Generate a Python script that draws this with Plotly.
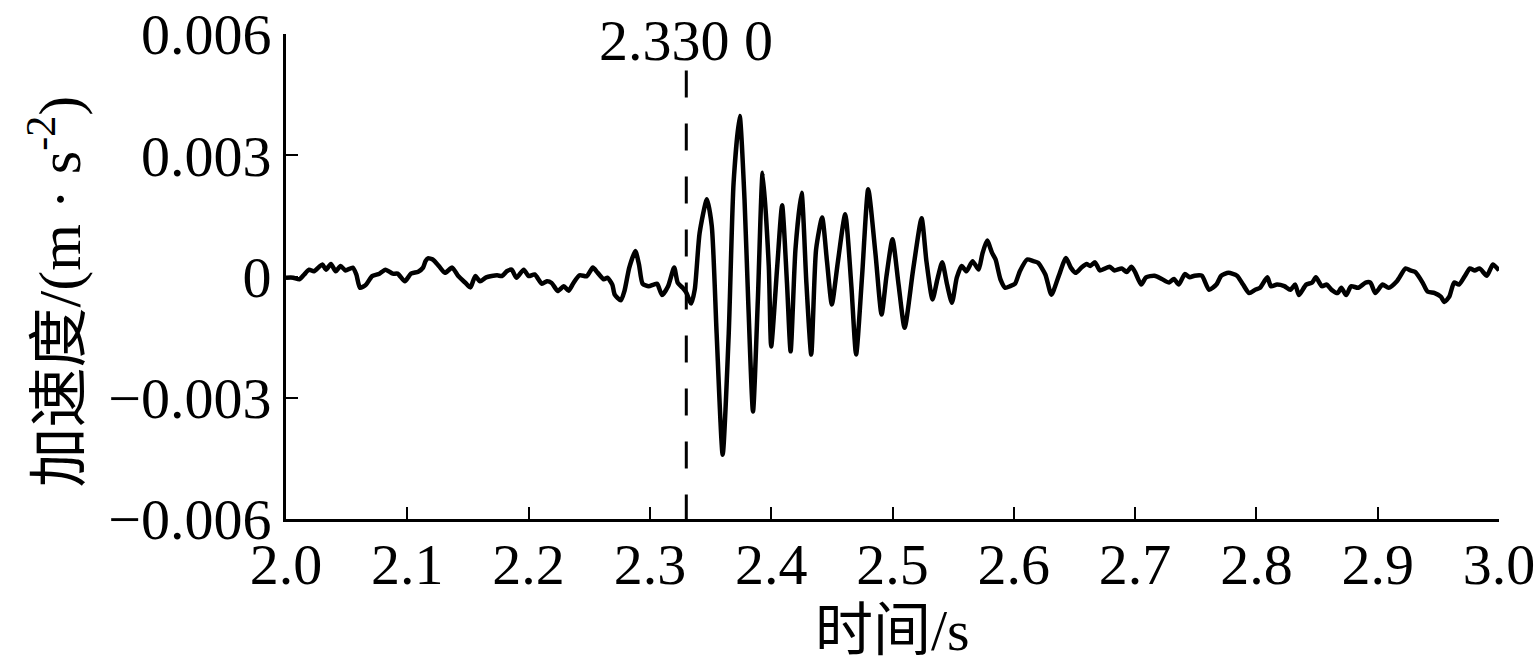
import plotly.graph_objects as go

# time (s) and acceleration (m/s^2)
time_s = [
    2.000, 2.006, 2.011, 2.015, 2.019, 2.023, 2.027, 2.030, 2.033, 2.037,
    2.041, 2.045, 2.049, 2.055, 2.058, 2.061, 2.066, 2.071, 2.077, 2.082,
    2.088, 2.092, 2.098, 2.103, 2.109, 2.113, 2.115, 2.117, 2.121, 2.126,
    2.131, 2.137, 2.142, 2.148, 2.152, 2.156, 2.160, 2.165, 2.174, 2.178,
    2.182, 2.186, 2.190, 2.196, 2.200, 2.205, 2.211, 2.215, 2.219, 2.224,
    2.229, 2.233, 2.237, 2.242, 2.248, 2.253, 2.257, 2.262, 2.265, 2.269,
    2.271, 2.276, 2.279, 2.283, 2.288, 2.291, 2.294, 2.299, 2.303, 2.306,
    2.310, 2.315, 2.320, 2.323, 2.327, 2.330, 2.334, 2.337, 2.341, 2.347,
    2.351, 2.355, 2.360, 2.365, 2.369, 2.374, 2.378, 2.381, 2.385, 2.389,
    2.393, 2.398, 2.400, 2.405, 2.409, 2.413, 2.416, 2.420, 2.425, 2.429,
    2.433, 2.437, 2.442, 2.446, 2.450, 2.455, 2.461, 2.466, 2.470, 2.475,
    2.480, 2.486, 2.491, 2.495, 2.500, 2.505, 2.510, 2.517, 2.524, 2.528,
    2.533, 2.537, 2.541, 2.545, 2.549, 2.553, 2.557, 2.561, 2.566, 2.571,
    2.574, 2.578, 2.582, 2.585, 2.589, 2.593, 2.597, 2.601, 2.605, 2.611,
    2.616, 2.620, 2.626, 2.631, 2.637, 2.643, 2.647, 2.651, 2.656, 2.660,
    2.663, 2.667, 2.671, 2.679, 2.683, 2.689, 2.693, 2.697, 2.700, 2.705,
    2.709, 2.716, 2.722, 2.728, 2.732, 2.736, 2.741, 2.745, 2.749, 2.755,
    2.761, 2.767, 2.771, 2.777, 2.784, 2.789, 2.794, 2.799, 2.803, 2.809,
    2.812, 2.817, 2.823, 2.828, 2.832, 2.835, 2.841, 2.846, 2.849, 2.854,
    2.858, 2.862, 2.867, 2.870, 2.874, 2.878, 2.884, 2.890, 2.894, 2.898,
    2.904, 2.909, 2.916, 2.923, 2.927, 2.931, 2.937, 2.941, 2.947, 2.952,
    2.955, 2.959, 2.963, 2.967, 2.972, 2.976, 2.980, 2.984, 2.990, 2.995,
    3.000,
]
accel = [
    -0.00003, -0.00003, -0.00007, 0.00005, 0.00017, 0.00013, 0.00023, 0.00030, 0.00017, 0.00031,
    0.00013, 0.00026, 0.00015, 0.00022, 0.00005, -0.00028, -0.00020, 0.00001, 0.00007, 0.00017,
    0.00007, 0.00007, -0.00012, 0.00007, 0.00012, 0.00022, 0.00038, 0.00045, 0.00042, 0.00026,
    0.00009, 0.00022, 0.00001, -0.00016, -0.00027, 0.00001, -0.00012, -0.00002, 0.00003, 0.00001,
    0.00013, 0.00017, -0.00003, 0.00017, 0.00001, 0.00005, -0.00018, -0.00012, -0.00016, -0.00036,
    -0.00024, -0.00035, -0.00016, 0.00003, 0.00001, 0.00022, 0.00009, -0.00007, -0.00003, -0.00020,
    -0.00045, -0.00059, -0.00036, 0.00022, 0.00063, 0.00030, -0.00018, -0.00024, -0.00020, -0.00018,
    -0.00046, -0.00024, 0.00022, -0.00016, -0.00028, -0.00040, -0.00067, -0.00032, 0.00108, 0.00191,
    0.00125, -0.00140, -0.00441, -0.00140, 0.00232, 0.00397, 0.00191, -0.00057, -0.00334, -0.00057,
    0.00257, 0.00026, -0.00173, 0.00026, 0.00176, -0.00016, -0.00185, 0.00067, 0.00207, -0.00016,
    -0.00193, 0.00067, 0.00146, 0.00037, -0.00069, 0.00037, 0.00154, -0.00020, -0.00193, 0.00005,
    0.00216, 0.00055, -0.00094, 0.00000, 0.00092, -0.00020, -0.00127, 0.00017, 0.00144, 0.00037,
    -0.00057, -0.00007, 0.00035, -0.00020, -0.00065, -0.00003, 0.00026, 0.00013, 0.00038, 0.00017,
    0.00055, 0.00089, 0.00059, 0.00042, -0.00007, -0.00028, -0.00024, -0.00018, 0.00013, 0.00042,
    0.00038, 0.00034, 0.00005, -0.00045, 0.00001, 0.00046, 0.00022, 0.00009, 0.00023, 0.00031,
    0.00026, 0.00035, 0.00015, 0.00024, 0.00015, 0.00020, 0.00011, 0.00024, 0.00011, -0.00020,
    -0.00002, 0.00002, -0.00006, -0.00015, -0.00006, -0.00020, 0.00006, -0.00002, 0.00002, 0.00002,
    -0.00033, -0.00020, 0.00002, 0.00009, 0.00002, -0.00020, -0.00041, -0.00033, -0.00028, -0.00002,
    -0.00024, -0.00020, -0.00024, -0.00033, -0.00020, -0.00046, -0.00020, -0.00015, -0.00002, -0.00024,
    -0.00020, -0.00033, -0.00041, -0.00028, -0.00046, -0.00024, -0.00028, -0.00015, -0.00015, -0.00041,
    -0.00020, -0.00028, -0.00011, 0.00020, 0.00015, 0.00011, -0.00015, -0.00037, -0.00041, -0.00050,
    -0.00063, -0.00050, -0.00015, -0.00020, 0.00002, 0.00020, 0.00015, 0.00020, 0.00002, 0.00030,
    0.00015,
]

x_ticks = [2.0, 2.1, 2.2, 2.3, 2.4, 2.5, 2.6, 2.7, 2.8, 2.9, 3.0]
x_labels = ["2.0", "2.1", "2.2", "2.3", "2.4", "2.5", "2.6", "2.7", "2.8", "2.9", "3.0"]
y_ticks = [-0.006, -0.003, 0, 0.003, 0.006]
y_labels = ["\u22120.006", "\u22120.003", "0", "0.003", "0.006"]

onset_t = 2.33
onset_label = "2.330 0"
marker_top = 0.0051

FONT = "Liberation Serif, Times New Roman, Noto Sans CJK SC, serif"
FS = 58

fig = go.Figure()
fig.add_trace(go.Scatter(
    x=time_s, y=accel, mode="lines",
    line=dict(color="black", width=4.5, shape="spline", smoothing=0.6),
    showlegend=False, hoverinfo="skip",
))
# dashed onset marker
fig.add_trace(go.Scatter(
    x=[onset_t, onset_t], y=[marker_top, -0.006], mode="lines",
    line=dict(color="black", width=3, dash="27px,26px"),
    showlegend=False, hoverinfo="skip",
))
fig.add_annotation(
    x=onset_t, y=1.0, xref="x", yref="paper", yanchor="middle", yshift=-6,
    text=onset_label, showarrow=False, font=dict(size=FS, color="black", family=FONT),
)
# axis titles as annotations for exact placement
fig.add_annotation(
    x=0.5, y=0, xref="paper", yref="paper", yanchor="middle", yshift=-111,
    text="时间/s", showarrow=False, font=dict(size=FS, color="black", family=FONT),
)
fig.add_annotation(
    x=0, y=0.5, xref="paper", yref="paper", xanchor="center", yanchor="middle",
    xshift=-231, yshift=-15, textangle=-90,
    text="加速度/(m · s<sup>-2</sup>)", showarrow=False,
    font=dict(size=60, color="black", family=FONT),
)

fig.update_xaxes(
    range=[2.0, 3.0], tickvals=x_ticks, ticktext=x_labels,
    showline=True, linecolor="black", linewidth=3, mirror=False,
    ticks="inside", ticklen=12, tickwidth=2, tickcolor="black",
    showgrid=False, zeroline=False, ticklabeloverflow="allow",
    ticklabelstandoff=-8,
    tickfont=dict(size=FS, color="black", family=FONT),
)
fig.update_yaxes(
    range=[-0.006, 0.006], tickvals=y_ticks, ticktext=y_labels,
    showline=True, linecolor="black", linewidth=3, mirror=False,
    ticks="inside", ticklen=12, tickwidth=2, tickcolor="black",
    showgrid=False, zeroline=False, ticklabeloverflow="allow",
    tickfont=dict(size=FS, color="black", family=FONT),
)
fig.update_layout(
    width=1535, height=668,
    margin=dict(l=286, r=36, t=34, b=149, autoexpand=False),
    plot_bgcolor="white", paper_bgcolor="white",
    font=dict(family=FONT, color="black"),
)
fig.write_html("out.html", config={"displayModeBar": False},
               post_script="document.body.style.margin='0';")
